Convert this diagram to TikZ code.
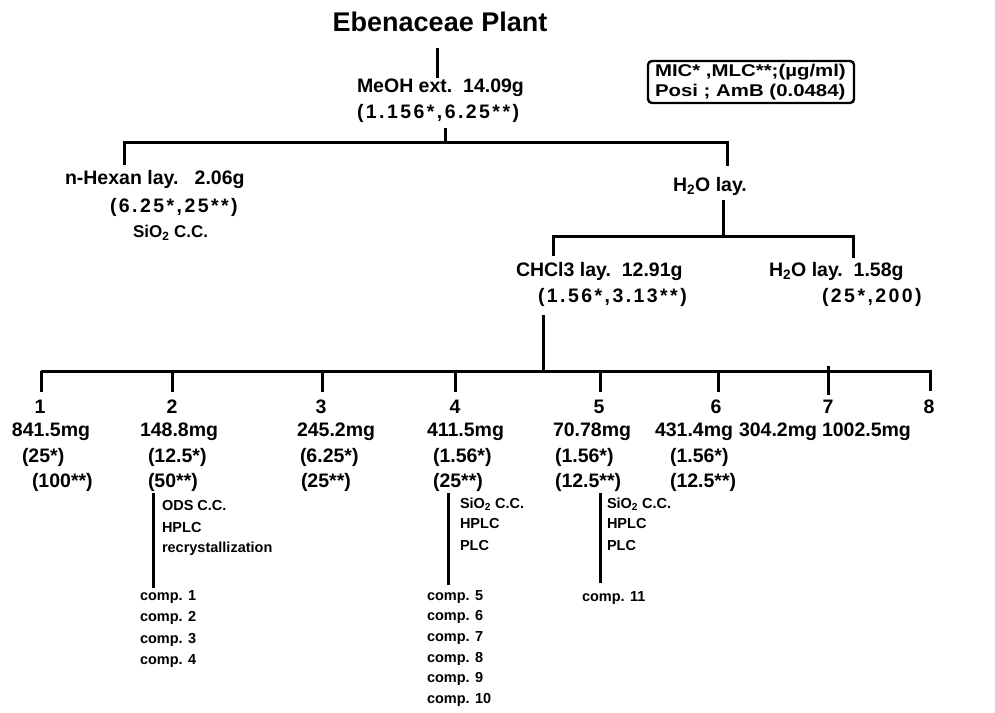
\documentclass[tikz,border=0pt]{standalone}
\usepackage{fontspec}
\setmainfont{Liberation Sans}
\newfontfamily\widefam{Liberation Sans Bold}[LetterSpace=12.5]
\begin{document}
\begin{tikzpicture}[x=1pt,y=-1pt,line width=3pt,
  every node/.style={inner sep=0pt,outer sep=0pt},
  titletxt/.style={font=\fontsize{27}{30}\selectfont\bfseries},
  bigtxt/.style={font=\fontsize{19.5}{22}\selectfont\bfseries,anchor=west},
  widetxt/.style={font=\widefam\fontsize{19.5}{22}\selectfont,anchor=west},
  numtxt/.style={font=\fontsize{19.5}{22}\selectfont\bfseries},
  smalltxt/.style={font=\fontsize{14.5}{16}\selectfont\bfseries,anchor=west},
  midtxt/.style={font=\fontsize{17}{19}\selectfont\bfseries,anchor=west},
  legtxt/.style={font=\fontsize{17}{19}\selectfont\bfseries,anchor=west},
  conn/.style={line width=3pt}]
\useasboundingbox (0,0) rectangle (995,712);

% top
\node[titletxt] (title) at (440,22) {Ebenaceae Plant};
\node[bigtxt] (meoh) at (357,88) {MeOH ext.\ \ 14.09g};
\node[widetxt] (meohb) at (357,113) {(1.156*,6.25**)};

% legend
\draw[line width=2.4pt,rounded corners=4pt] (648,61) rectangle (854,103);
\node[legtxt] (leg1) at (655,72) {\scalebox{1.2}[1]{MIC* ,MLC**;(µg/ml)}};
\node[legtxt] (leg2) at (655,92) {\scalebox{1.2}[1]{Posi ; AmB (0.0484)}};

% first split
\node[bigtxt] (hex) at (65,179) {n-Hexan lay.\ \ \ 2.06g};
\node[widetxt] (hexb) at (110,207) {(6.25*,25**)};
\node[midtxt] (hexc) at (133,233) {SiO\textsubscript{2} C.C.};
\node[bigtxt] (h2o) at (673,186) {H\textsubscript{2}O lay.};

% second split
\node[bigtxt] (chcl) at (516,271) {CHCl3 lay.\ \ 12.91g};
\node[widetxt] (chclb) at (538,297) {(1.56*,3.13**)};
\node[bigtxt] (wat) at (769,271) {H\textsubscript{2}O lay.\ \ 1.58g};
\node[widetxt] (watb) at (822,297) {(25*,200)};

% fractions
\node[numtxt] (n1) at (40,407) {1};
\node[numtxt] (n2) at (172,407) {2};
\node[numtxt] (n3) at (321,407) {3};
\node[numtxt] (n4) at (455,407) {4};
\node[numtxt] (n5) at (599,407) {5};
\node[numtxt] (n6) at (716,407) {6};
\node[numtxt] (n7) at (828,407) {7};
\node[numtxt] (n8) at (929,407) {8};

\node[bigtxt] (f1a) at (12,432) {841.5mg};
\node[bigtxt] (f1b) at (22,457) {(25*)};
\node[bigtxt] (f1c) at (32,482) {(100**)};
\node[bigtxt] (f2a) at (140,432) {148.8mg};
\node[bigtxt] (f2b) at (148,457) {(12.5*)};
\node[bigtxt] (f2c) at (148,482) {(50**)};
\node[bigtxt] (f3a) at (297,432) {245.2mg};
\node[bigtxt] (f3b) at (300,457) {(6.25*)};
\node[bigtxt] (f3c) at (301,482) {(25**)};
\node[bigtxt] (f4a) at (427,432) {411.5mg};
\node[bigtxt] (f4b) at (433,457) {(1.56*)};
\node[bigtxt] (f4c) at (433,482) {(25**)};
\node[bigtxt] (f5a) at (553,432) {70.78mg};
\node[bigtxt] (f5b) at (555,457) {(1.56*)};
\node[bigtxt] (f5c) at (555,482) {(12.5**)};
\node[bigtxt] (f6a) at (655,432) {431.4mg};
\node[bigtxt] (f6b) at (670,457) {(1.56*)};
\node[bigtxt] (f6c) at (670,482) {(12.5**)};
\node[bigtxt] (f7a) at (739,432) {304.2mg};
\node[bigtxt] (f8a) at (822,432) {1002.5mg};

% methods
\node[smalltxt] (m2a) at (162,506) {ODS C.C.};
\node[smalltxt] (m2b) at (162,528) {HPLC};
\node[smalltxt] (m2c) at (162,549) {recrystallization};
\node[smalltxt] (m4a) at (460,504) {SiO\textsubscript{2} C.C.};
\node[smalltxt] (m4b) at (460,524) {HPLC};
\node[smalltxt] (m4c) at (460,545) {PLC};
\node[smalltxt] (m5a) at (607,504) {SiO\textsubscript{2} C.C.};
\node[smalltxt] (m5b) at (607,524) {HPLC};
\node[smalltxt] (m5c) at (607,545) {PLC};

% compounds
\node[smalltxt] (c1) at (140,597) {comp. 1};
\node[smalltxt] (c2) at (140,618) {comp. 2};
\node[smalltxt] (c3) at (140,640) {comp. 3};
\node[smalltxt] (c4) at (140,661) {comp. 4};
\node[smalltxt] (c5) at (427,597) {comp. 5};
\node[smalltxt] (c6) at (427,617) {comp. 6};
\node[smalltxt] (c7) at (427,638) {comp. 7};
\node[smalltxt] (c8) at (427,659) {comp. 8};
\node[smalltxt] (c9) at (427,679) {comp. 9};
\node[smalltxt] (c10) at (427,700) {comp. 10};
\node[smalltxt] (c11) at (582,598) {comp. 11};

% junction coordinates
\coordinate (a0) at (437,48);
\coordinate (a1) at (437,78);
\coordinate (b0) at (445,128);
\coordinate (b1) at (445,142);
\coordinate (bl) at (124,142);
\coordinate (br) at (727,142);
\coordinate (bl2) at (124,165);
\coordinate (br2) at (727,166);
\coordinate (c0) at (723,200);
\coordinate (c1j) at (723,236);
\coordinate (cl) at (553,236);
\coordinate (cr) at (853,236);
\coordinate (cl2) at (553,256);
\coordinate (cr2) at (853,258);
\coordinate (d0) at (543,315);
\coordinate (d1) at (543,371);
\coordinate (dl) at (41,371);
\coordinate (dr) at (930,371);

% connectors
\draw[conn] (a0) -- (a1);
\draw[conn] (b0) -- (b1);
\draw[conn] (bl2) -- (bl) -- (br) -- (br2);
\draw[conn] (c0) -- (c1j);
\draw[conn] (cl2) -- (cl) -- (cr) -- (cr2);
\draw[conn] (d0) -- (d1);
\draw[conn] (dl) -- (dr) -- (930,391);
\draw[conn] (dl) -- (41,392);
\draw[conn] (172,371) -- (172,392);
\draw[conn] (322,371) -- (322,392);
\draw[conn] (455,371) -- (455,392);
\draw[conn] (600,371) -- (600,392);
\draw[conn] (718,371) -- (718,392);
\draw[conn] (828,366) -- (828,395);
\draw[conn] (153,493) -- (153,588);
\draw[conn] (448,493) -- (448,585);
\draw[conn] (600,493) -- (600,583);
\end{tikzpicture}
\end{document}
